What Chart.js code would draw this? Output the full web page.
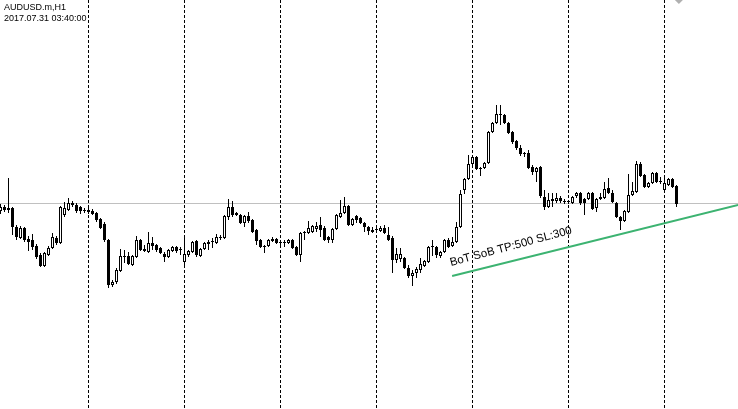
<!DOCTYPE html>
<html>
<head>
<meta charset="utf-8">
<script src="https://cdn.jsdelivr.net/npm/chart.js@4/dist/chart.umd.min.js"></script>
<style>
html,body{margin:0;padding:0;background:#fff;overflow:hidden;}
#wrap{position:relative;width:738px;height:409px;}
</style>
</head>
<body>
<div id="wrap"><canvas id="c" width="738" height="409"></canvas></div>
<script>
// ---- Chart data (AUDUSD.m, H1) ----
const symbolLabel = "AUDUSD.m,H1";
const timeLabel = "2017.07.31 03:40:00";
const tradeText = "BoT SoB TP:500 SL:300";

const open = [
0.7973,0.7977,0.7974,0.7976,0.7957,0.7946,0.7956,0.7945,0.7944,0.7938,
0.7929,0.7918,0.7929,0.7936,0.7946,0.7941,0.7969,0.7974,0.7981,0.7979,
0.7977,0.7974,0.7974,0.7973,0.7971,0.7965,0.7960,0.7944,0.7899,0.7902,
0.7913,0.7927,0.7928,0.7919,0.7927,0.7944,0.7935,0.7932,0.7941,0.7939,
0.7936,0.7930,0.7927,0.7933,0.7937,0.7934,0.7922,0.7929,0.7932,0.7943,
0.7928,0.7935,0.7940,0.7942,0.7941,0.7946,0.7946,0.7967,0.7977,0.7971,
0.7969,0.7961,0.7968,0.7964,0.7954,0.7944,0.7938,0.7938,0.7945,0.7945,
0.7941,0.7942,0.7941,0.7944,0.7937,0.7929,0.7952,0.7951,0.7952,0.7955,
0.7959,0.7956,0.7947,0.7944,0.7955,0.7967,0.7971,0.7978,0.7959,0.7968,
0.7966,0.7961,0.7957,0.7954,0.7954,0.7953,0.7956,0.7949,0.7946,0.7924,
0.7925,0.7926,0.7916,0.7908,0.7911,0.7914,0.7918,0.7922,0.7937,0.7937,
0.7928,0.7932,0.7944,0.7938,0.7942,0.7957,0.7994,0.8005,0.8020,0.8027,
0.8016,0.8016,0.8021,0.8052,0.8061,0.8070,0.8069,0.8061,0.8052,0.8043,
0.8036,0.8031,0.8031,0.8017,0.8012,0.8017,0.7987,0.7977,0.7985,0.7983,
0.7986,0.7983,0.7982,0.7981,0.7988,0.7991,0.7985,0.7985,0.7991,0.7976,
0.7985,0.7986,0.7996,0.7991,0.7981,0.7967,0.7963,0.7972,0.7989,0.7992,
0.8020,0.8009,0.7997,0.8001,0.8011,0.8003,0.7994,0.7999,0.8005,0.7998];

const high = [
0.7980,0.7979,0.8006,0.7977,0.7959,0.7958,0.7957,0.7948,0.7950,0.7940,
0.7931,0.7932,0.7938,0.7951,0.7948,0.7978,0.7982,0.7986,0.7983,0.7981,
0.7978,0.7976,0.7976,0.7975,0.7972,0.7966,0.7962,0.7945,0.7904,0.7916,
0.7935,0.7934,0.7932,0.7929,0.7948,0.7945,0.7939,0.7952,0.7947,0.7940,
0.7937,0.7932,0.7935,0.7938,0.7938,0.7937,0.7947,0.7934,0.7943,0.7944,
0.7936,0.7942,0.7944,0.7946,0.7950,0.7949,0.7969,0.7985,0.7983,0.7972,
0.7970,0.7969,0.7972,0.7965,0.7955,0.7945,0.7939,0.7945,0.7947,0.7946,
0.7942,0.7944,0.7945,0.7945,0.7938,0.7952,0.7953,0.7963,0.7959,0.7962,
0.7967,0.7958,0.7948,0.7956,0.7970,0.7984,0.7987,0.7979,0.7966,0.7969,
0.7967,0.7962,0.7958,0.7957,0.7956,0.7958,0.7959,0.7957,0.7948,0.7936,
0.7936,0.7927,0.7919,0.7914,0.7917,0.7926,0.7924,0.7938,0.7944,0.7938,
0.7933,0.7945,0.7946,0.7947,0.7962,0.7994,0.8006,0.8029,0.8029,0.8028,
0.8017,0.8022,0.8053,0.8062,0.8079,0.8079,0.8070,0.8062,0.8053,0.8044,
0.8039,0.8032,0.8034,0.8019,0.8017,0.8018,0.7994,0.7991,0.7991,0.7991,
0.7988,0.7985,0.7984,0.7988,0.7992,0.7992,0.7986,0.7992,0.7992,0.7986,
0.7991,0.8002,0.8006,0.7994,0.7982,0.7968,0.7974,0.8010,0.8002,0.8023,
0.8022,0.8010,0.8002,0.8012,0.8012,0.8007,0.8006,0.8006,0.8006,0.7999];

const low = [
0.7970,0.7972,0.7971,0.7949,0.7944,0.7945,0.7942,0.7933,0.7934,0.7925,
0.7917,0.7917,0.7928,0.7935,0.7939,0.7940,0.7967,0.7973,0.7977,0.7971,
0.7970,0.7971,0.7970,0.7969,0.7962,0.7955,0.7942,0.7896,0.7897,0.7900,
0.7912,0.7921,0.7919,0.7918,0.7926,0.7933,0.7932,0.7931,0.7934,0.7932,
0.7930,0.7922,0.7926,0.7932,0.7931,0.7929,0.7919,0.7927,0.7931,0.7927,
0.7927,0.7934,0.7934,0.7936,0.7940,0.7944,0.7945,0.7964,0.7967,0.7968,
0.7960,0.7957,0.7961,0.7951,0.7939,0.7936,0.7931,0.7937,0.7942,0.7940,
0.7938,0.7937,0.7940,0.7935,0.7928,0.7922,0.7944,0.7950,0.7951,0.7952,
0.7947,0.7943,0.7941,0.7941,0.7954,0.7966,0.7970,0.7958,0.7958,0.7961,
0.7960,0.7952,0.7949,0.7951,0.7951,0.7952,0.7950,0.7943,0.7911,0.7921,
0.7922,0.7915,0.7906,0.7898,0.7906,0.7911,0.7917,0.7921,0.7928,0.7926,
0.7926,0.7931,0.7936,0.7937,0.7941,0.7956,0.7990,0.8004,0.8019,0.8014,
0.8008,0.8015,0.8020,0.8051,0.8060,0.8059,0.8060,0.8050,0.8040,0.8034,
0.8028,0.8027,0.8015,0.8009,0.8002,0.7986,0.7974,0.7976,0.7977,0.7981,
0.7981,0.7980,0.7980,0.7980,0.7986,0.7979,0.7969,0.7984,0.7974,0.7972,
0.7984,0.7985,0.7990,0.7981,0.7966,0.7954,0.7962,0.7971,0.7988,0.7991,
0.8007,0.7996,0.7996,0.8000,0.8001,0.8000,0.7992,0.7998,0.7996,0.7977];

const close = [
0.7977,0.7974,0.7976,0.7957,0.7947,0.7956,0.7944,0.7942,0.7937,0.7927,
0.7918,0.7931,0.7936,0.7947,0.7941,0.7977,0.7976,0.7981,0.7979,0.7973,
0.7973,0.7973,0.7972,0.7970,0.7964,0.7956,0.7944,0.7899,0.7902,0.7914,
0.7928,0.7928,0.7920,0.7928,0.7944,0.7934,0.7933,0.7941,0.7938,0.7934,
0.7931,0.7927,0.7934,0.7937,0.7933,0.7934,0.7930,0.7933,0.7942,0.7929,
0.7935,0.7941,0.7942,0.7942,0.7947,0.7947,0.7968,0.7977,0.7969,0.7969,
0.7961,0.7968,0.7963,0.7952,0.7943,0.7937,0.7937,0.7944,0.7943,0.7941,
0.7941,0.7941,0.7944,0.7936,0.7929,0.7951,0.7951,0.7956,0.7958,0.7958,
0.7954,0.7944,0.7944,0.7955,0.7969,0.7971,0.7978,0.7959,0.7965,0.7964,
0.7961,0.7957,0.7953,0.7952,0.7954,0.7956,0.7951,0.7944,0.7924,0.7930,
0.7930,0.7916,0.7908,0.7911,0.7915,0.7920,0.7923,0.7937,0.7937,0.7929,
0.7932,0.7944,0.7937,0.7942,0.7957,0.7990,0.8005,0.8020,0.8027,0.8015,
0.8015,0.8021,0.8052,0.8061,0.8070,0.8069,0.8061,0.8051,0.8042,0.8036,
0.8030,0.8030,0.8016,0.8012,0.8016,0.7988,0.7977,0.7984,0.7983,0.7986,
0.7983,0.7982,0.7982,0.7987,0.7991,0.7981,0.7981,0.7991,0.7975,0.7985,
0.7987,0.7995,0.7991,0.7982,0.7967,0.7963,0.7973,0.7989,0.7993,0.8020,
0.8008,0.7997,0.8001,0.8011,0.8002,0.8002,0.8001,0.8005,0.7997,0.7980];

// bar index of the first H1 bar of each day (period separators)
const daySeparators = [22, 46, 70, 94, 118, 142, 166];

// trend line (bar index, price) and its label anchor
const trendX = [112.9, 184.4];
const trendY = [0.7908, 0.7979];
const textX = 112.6;
const textY = 0.7918;

// ---- build datasets ----
const idx = open.map((_, i) => i);
const wickData = idx.map(i => ({x: i, y: [low[i], high[i]]}));
const bodyData = idx.map(i => ({x: i, y: [open[i], close[i]]}));
const bodyFill = idx.map(i => close[i] > open[i] ? '#ffffff' : '#000000');

const overlay = {
  id: 'mt4overlay',
  beforeDatasetsDraw(chart) {
    const ctx = chart.ctx, xs = chart.scales.x, ys = chart.scales.y;
    const area = chart.chartArea;
    ctx.save();
    // bid line
    const by = Math.floor(ys.getPixelForValue(close[close.length - 1])) + 0.5;
    ctx.strokeStyle = '#c0c0c0';
    ctx.lineWidth = 1;
    ctx.beginPath();
    ctx.moveTo(area.left, by); ctx.lineTo(area.right, by);
    ctx.stroke();
    // period separators
    ctx.strokeStyle = '#000000';
    ctx.setLineDash([3, 2]);
    daySeparators.forEach(d => {
      const x = Math.floor(xs.getPixelForValue(d)) + 0.5;
      ctx.beginPath();
      ctx.moveTo(x, area.top); ctx.lineTo(x, area.bottom);
      ctx.stroke();
    });
    ctx.restore();
  },
  afterDatasetsDraw(chart) {
    const ctx = chart.ctx, xs = chart.scales.x, ys = chart.scales.y;
    ctx.save();
    // trend line
    ctx.strokeStyle = '#3cb371';
    ctx.lineWidth = 2;
    ctx.beginPath();
    ctx.moveTo(xs.getPixelForValue(trendX[0]), ys.getPixelForValue(trendY[0]));
    ctx.lineTo(xs.getPixelForValue(trendX[1]), ys.getPixelForValue(trendY[1]));
    ctx.stroke();
    // label
    ctx.translate(xs.getPixelForValue(textX), ys.getPixelForValue(textY));
    ctx.rotate(-15 * Math.PI / 180);
    ctx.fillStyle = '#000000';
    ctx.font = '11.5px "Liberation Sans", Arial, sans-serif';
    ctx.textBaseline = 'alphabetic';
    ctx.textAlign = 'left';
    ctx.fillText(tradeText, 0, 0);
    ctx.restore();

    // header texts
    ctx.save();
    ctx.fillStyle = '#000000';
    ctx.font = '9px "Liberation Sans", Arial, sans-serif';
    ctx.textBaseline = 'alphabetic';
    ctx.fillText(symbolLabel, 4, 10);
    ctx.fillText(timeLabel, 4, 21);
    // chart shift marker
    const sx = xs.getPixelForValue(open.length - 0.4);
    ctx.fillStyle = '#b0b0b0';
    ctx.beginPath();
    ctx.moveTo(sx - 4, 0); ctx.lineTo(sx + 4, 0); ctx.lineTo(sx, 4);
    ctx.closePath();
    ctx.fill();
    ctx.restore();
  }
};

new Chart(document.getElementById('c'), {
  type: 'bar',
  data: {
    datasets: [
      {
        label: 'body',
        data: bodyData,
        backgroundColor: bodyFill,
        borderColor: '#000000',
        borderWidth: 1,
        borderSkipped: false,
        barThickness: 3,
        minBarLength: 1,
        inflateAmount: 0,
        grouped: false,
        order: 1
      },
      {
        label: 'wick',
        data: wickData,
        backgroundColor: '#000000',
        borderWidth: 0,
        barThickness: 1,
        inflateAmount: 0,
        grouped: false,
        order: 2
      }
    ]
  },
  options: {
    responsive: false,
    devicePixelRatio: 1,
    animation: false,
    layout: { padding: 0 },
    plugins: { legend: { display: false }, tooltip: { enabled: false } },
    scales: {
      x: { type: 'linear', display: false, min: -0.125, max: 184.375, offset: false },
      y: { display: false, min: 0.7775, max: 0.8184 }
    }
  },
  plugins: [overlay]
});
</script>
</body>
</html>
